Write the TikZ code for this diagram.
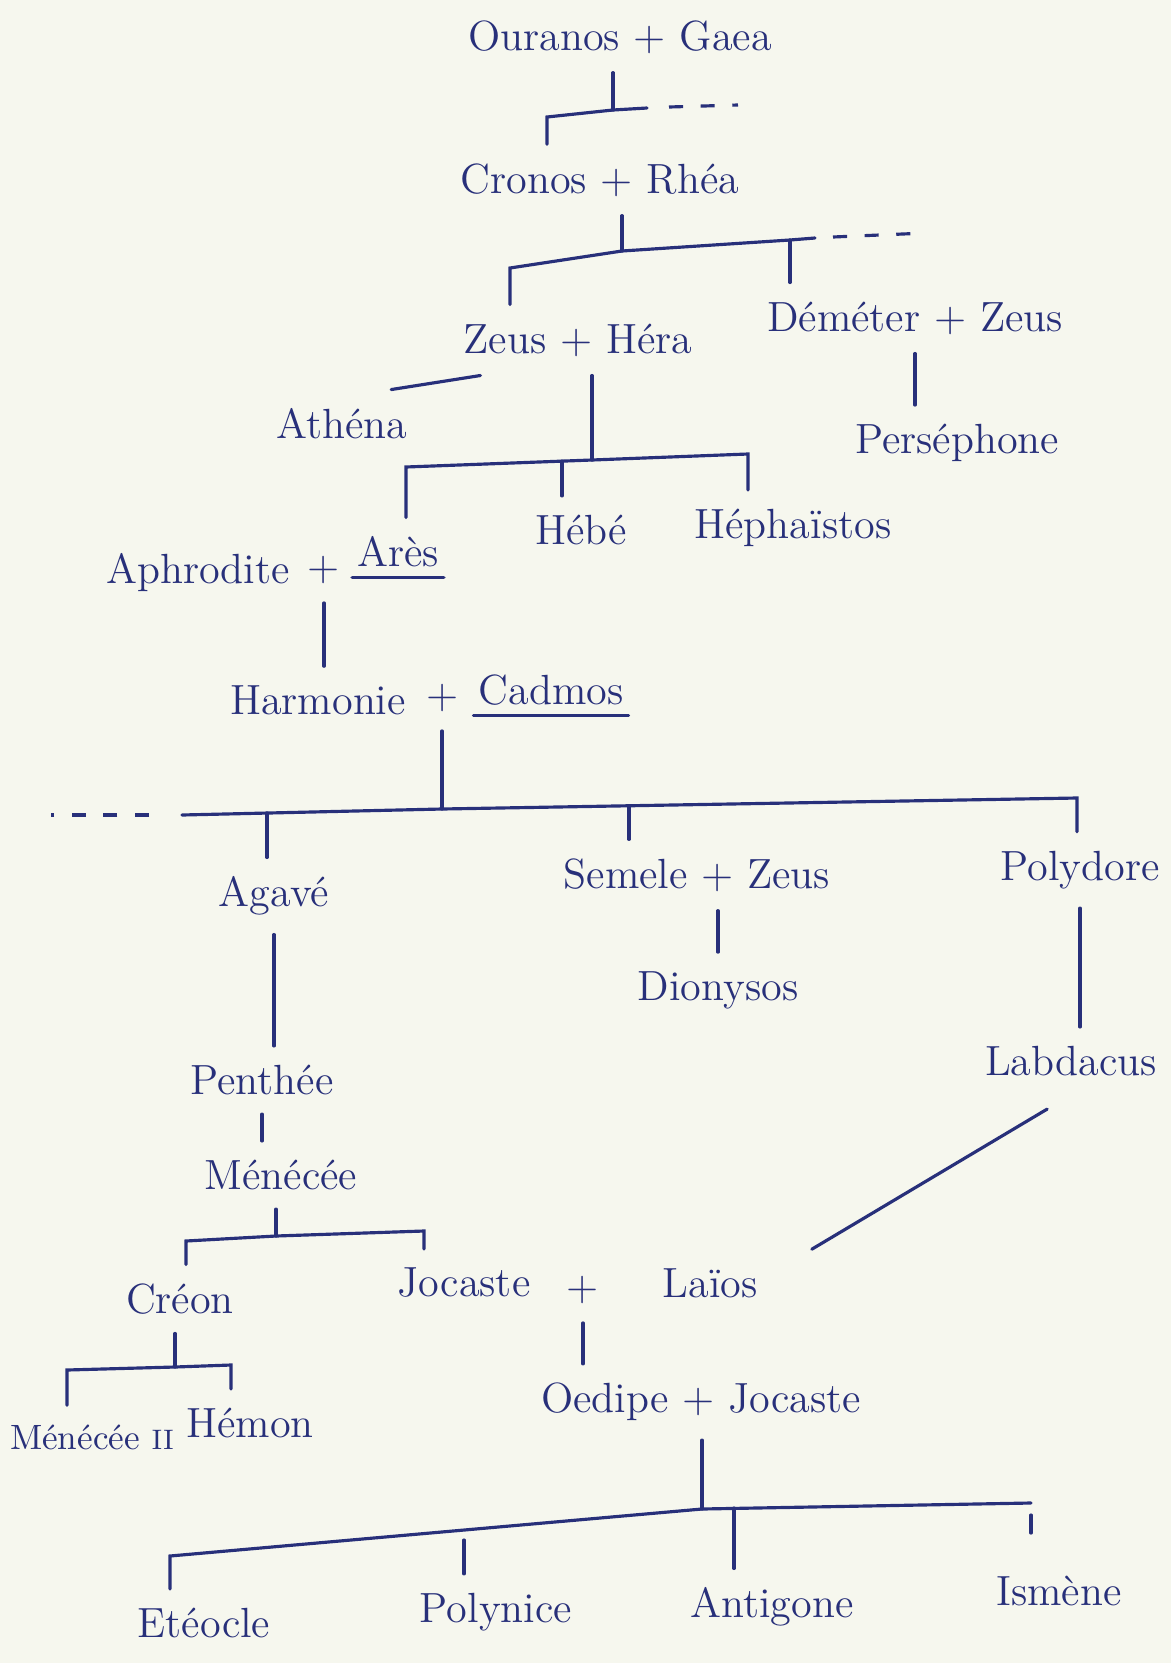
\documentclass[tikz,border=0pt]{standalone}
\usepackage{tikz}
\usepackage{xcolor}
\definecolor{ink}{HTML}{28307A}
\definecolor{paper}{HTML}{F6F7EE}

\begin{document}
\begin{tikzpicture}[x=0.01cm,y=-0.01cm,line width=0.9pt,
		person/.style={text=ink,inner sep=5pt,font=\fontsize{12}{14}\selectfont},
		branch/.style={draw=ink,line cap=round},
		others/.style={draw=ink,dash pattern=on 4pt off 5pt}]
		%
		\fill [use as bounding box,color=paper] (0,0) rectangle (1171,1663);
		\begin{scope}
			%
			\node[person] (og) at (620,37) {Ouranos + Gaea};
			\node[person] (cr) at (600,180) {Cronos + Rhéa};
			\node[person] (zh) at (578,340) {Zeus + Héra};
			\node[person] (dz) at (915,318) {Déméter + Zeus};
			\node[person] (ath) at (342,424) {Athéna};
			\node[person] (per) at (957,443) {Perséphone};
			\node[person] (aph) at (198,573) {Aphrodite};
			\node[person] (pl1) at (324,570) {+};
			\node[person] (ares) at (398,552) {Arès};
			\node[person] (hebe) at (581,530) {Hébé};
			\node[person] (heph) at (793,528) {Héphaïstos};
			\node[person] (harm) at (318,700) {Harmonie};
			\node[person] (pl2) at (443,698) {+};
			\node[person] (cad) at (551,690) {Cadmos};
			\node[person] (agave) at (274,896) {Agavé};
			\node[person] (sem) at (697,875) {Semele + Zeus};
			\node[person] (poly) at (1080,870) {Polydore};
			\node[person] (dio) at (718,990) {Dionysos};
			\node[person] (pen) at (262,1080) {Penthée};
			\node[person] (lab) at (1071,1061) {Labdacus};
			\node[person] (men) at (281,1175) {Ménécée};
			\node[person] (creon) at (180,1299) {Créon};
			\node[person] (joc) at (464,1283) {Jocaste};
			\node[person] (pl3) at (583,1290) {+};
			\node[person] (lai) at (710,1283) {Laïos};
			\node[person] (oj) at (701,1402) {Oedipe + Jocaste};
			\node[person,font=\fontsize{10}{12}\selectfont] (men2) at (92,1437) {Ménécée {\footnotesize II}};
			\node[person] (hem) at (250,1423) {Hémon};
			\node[person] (ete) at (204,1623) {Etéocle};
			\node[person] (pol) at (496,1612) {Polynice};
			\node[person] (ant) at (772,1607) {Antigone};
			\node[person] (ism) at (1059,1591) {Ismène};
			%
			% Ouranos + Gaea
			\coordinate (j1) at (613,110);
			\coordinate (ogL) at (547,117);
			\coordinate (ogR) at (647,108);
			\coordinate (ogD) at (738,105);
			\draw [branch] (og.south -| j1) -- (j1);
			\draw [branch] (ogL |- cr.north) -- (ogL) -- (j1) -- (ogR);
			\draw [others] (ogR) ++(22,-1) -- (ogD);
			%
			% Cronos + Rhea
			\coordinate (j2) at (622,251);
			\coordinate (crL) at (510,268);
			\coordinate (crM) at (790,240);
			\coordinate (crR) at (815,238);
			\coordinate (crD) at (926,233);
			\draw [branch] (cr.south -| j2) -- (j2);
			\draw [branch] (crL |- zh.north) -- (crL) -- (j2) -- (crM) -- (crR);
			\draw [branch] (crM) -- (crM |- dz.north);
			\draw [others] (crR) ++(18,-1) -- (crD);
			%
			% Zeus + Hera
			\coordinate (j3) at (592,460);
			\coordinate (zhL) at (406,467);
			\coordinate (zhM) at (562,461);
			\coordinate (zhR) at (748,454);
			\draw [branch] (zh.200) -- (ath.35);
			\draw [branch] (zh.south -| j3) -- (j3);
			\draw [branch] (zhL |- ares.north) -- (zhL) -- (j3) -- (zhR) -- (zhR |- heph.north);
			\draw [branch] (zhM) -- (zhM |- hebe.north);
			\draw [branch] (dz.south) -- (dz.south |- per.north);
			%
			% Aphrodite + Ares
			\draw [branch] ([shift={(4pt,2.5pt)}]ares.south west) -- ([shift={(-4pt,2.5pt)}]ares.south east);
			\draw [branch] (pl1.south) -- (pl1.south |- harm.north);
			%
			% Harmonie + Cadmos
			\coordinate (j4) at (442,809);
			\coordinate (hcL) at (182,815);
			\coordinate (hcA) at (267,813);
			\coordinate (hcS) at (629,806);
			\coordinate (hcR) at (1077,798);
			\coordinate (hcD) at (51,815);
			\draw [branch] ([shift={(4pt,2.5pt)}]cad.south west) -- ([shift={(-4pt,2.5pt)}]cad.south east);
			\draw [branch] (pl2.south -| j4) -- (j4);
			\draw [branch] (hcL) -- (j4) -- (hcR) -- (hcR |- poly.north);
			\draw [branch] (hcA) -- (hcA |- agave.north);
			\draw [branch] (hcS) -- (hcS |- sem.north);
			\draw [others] (hcL) ++(-33,0) -- (hcD);
			%
			\draw [branch] (agave.south) -- (agave.south |- pen.north);
			\draw [branch] (pen.south) -- (pen.south |- men.north);
			\draw [branch] (dio.north |- sem.south) -- (dio.north);
			\draw [branch] (poly.south) -- (poly.south |- lab.north);
			\draw [branch] ([yshift=-4pt]lab.235) -- ([xshift=10pt]lai.north east);
			%
			% Menecee
			\coordinate (j5) at (276,1236);
			\coordinate (mnL) at (186,1241);
			\coordinate (mnR) at (424,1231);
			\draw [branch] (men.south -| j5) -- (j5);
			\draw [branch] (mnL |- creon.north) -- (mnL) -- (j5) -- (mnR) -- (mnR |- joc.north);
			\draw [branch] (pl3.south) -- (pl3.south |- oj.north);
			%
			% Creon
			\coordinate (j6) at (175,1367);
			\coordinate (cnL) at (67,1370);
			\coordinate (cnR) at (231,1365);
			\draw [branch] (creon.south -| j6) -- (j6);
			\draw [branch] (cnL |- men2.north) -- (cnL) -- (j6) -- (cnR) -- (cnR |- hem.north);
			%
			% Oedipe + Jocaste
			\coordinate (j7) at (702,1509);
			\coordinate (ojL) at (170,1556);
			\coordinate (ojP) at (464,1540);
			\coordinate (ojA) at (734,1508);
			\coordinate (ojR) at (1031,1503);
			\draw [branch] (oj.south -| j7) -- (j7);
			\draw [branch] (ojL |- ete.north) -- (ojL) -- (j7) -- (ojR);
			\draw [branch] (ojP) -- (ojP |- pol.north);
			\draw [branch] (ojA) -- (ojA |- ant.north);
			\draw [branch] (ojR) ++(0,12) -- ++(0,18);
		\end{scope}
		%
	\end{tikzpicture}
\end{document}
